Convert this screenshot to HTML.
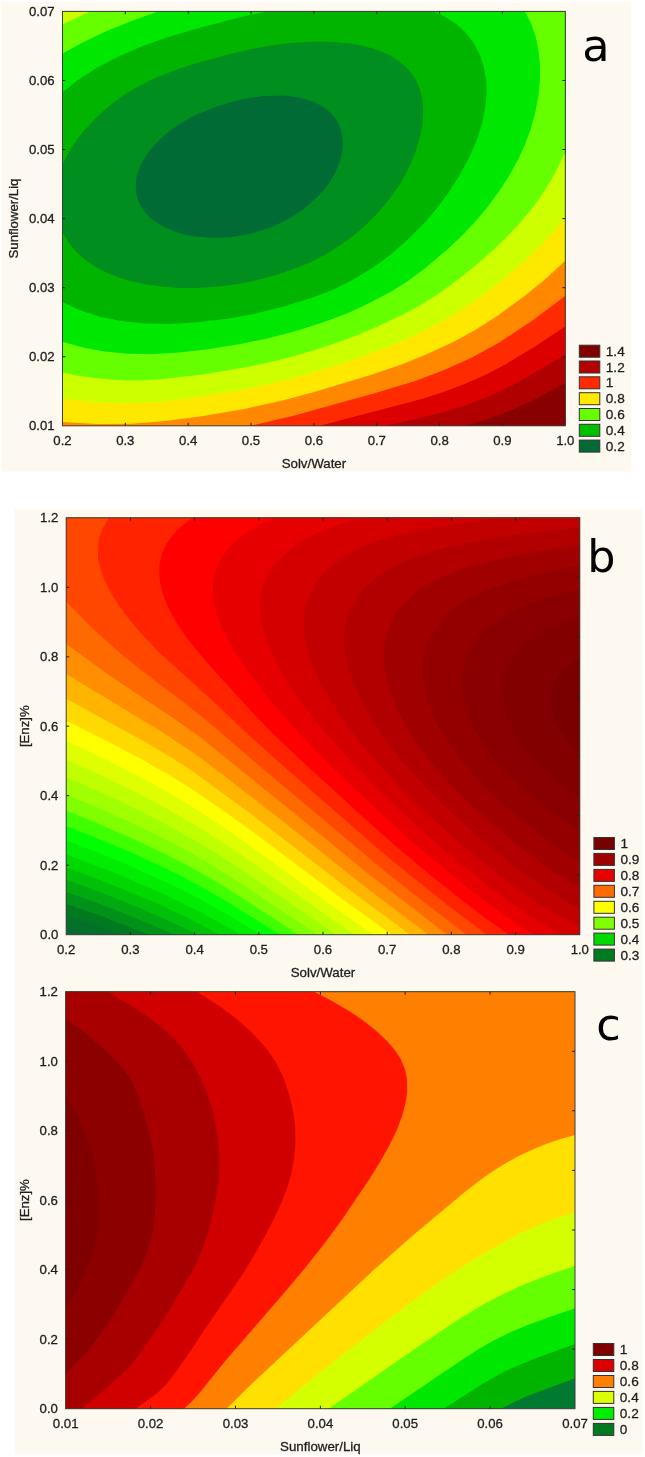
<!DOCTYPE html>
<html><head><meta charset="utf-8"><style>html,body{margin:0;padding:0;background:#fff;width:645px;height:1457px;overflow:hidden}svg{display:block}</style></head><body>
<svg width="645" height="1457" viewBox="0 0 645 1457">
<rect x="0" y="0" width="645" height="1457" fill="#fff"/>
<rect x="1.5" y="2" width="629.5" height="469.5" fill="#fdf9f0"/>
<rect x="14.6" y="509.3" width="627.9" height="945" fill="#fdf9f0"/>
<rect x="62.5" y="11.4" width="502.8" height="414.4" fill="#006b35"/>
<path fill="#008e1e" fill-rule="evenodd" d="M63.5 11.4L565.3 11.4 565.3 425.8 62.5 425.8 62.5 11.4ZM260.0 96.4L238.5 100.1 216.5 106.4 196.5 114.6 187.3 119.4 177.5 125.3 169.0 131.4 161.9 137.4 155.5 143.7 149.7 150.4 145.4 156.4 141.3 163.4 138.4 170.4 136.5 177.4 135.7 184.4 136.0 191.4 137.2 197.4 139.5 203.4 143.0 209.4 147.0 214.4 152.3 219.4 158.5 223.8 165.5 227.7 173.5 231.1 182.5 233.9 191.5 235.9 210.5 237.8 220.5 237.8 231.5 236.9 251.5 233.4 270.5 227.5 287.7 219.4 303.2 209.4 316.9 197.4 323.2 190.4 328.6 183.4 333.0 176.4 336.7 169.4 339.4 162.4 341.6 154.4 342.6 147.4 342.6 140.4 341.9 134.4 340.4 128.4 337.7 122.4 334.5 117.4 330.1 112.4 325.3 108.4 319.5 104.7 312.5 101.5 305.5 99.1 297.5 97.3 288.5 96.0 279.5 95.5 260.5 96.3Z"/>
<path fill="#00b400" fill-rule="evenodd" d="M63.5 11.4L565.3 11.4 565.3 425.8 62.5 425.8 62.5 231.7 67.9 241.4 75.0 250.4 83.5 258.4 93.1 265.4 103.9 271.4 116.5 276.7 129.5 280.8 144.5 284.2 160.5 286.5 177.5 287.9 195.5 288.1 213.5 287.1 231.5 285.0 248.5 282.0 266.5 277.7 284.5 272.3 299.5 266.8 312.5 261.2 325.5 254.5 337.5 247.1 349.5 238.7 360.8 229.4 371.5 219.4 381.7 208.4 391.3 196.4 399.6 184.4 406.5 172.4 412.1 160.4 417.0 147.4 420.4 135.4 422.5 123.4 423.2 111.4 422.6 101.4 420.8 92.4 417.6 83.4 413.5 76.0 407.5 68.5 400.8 62.4 392.5 56.8 383.8 52.4 373.0 48.4 361.5 45.4 349.5 43.3 335.5 42.0 320.5 41.5 305.5 41.9 289.5 43.1 272.5 45.3 254.5 48.4 235.9 52.4 193.5 63.9 177.0 69.4 161.2 75.4 147.7 81.4 136.2 87.4 124.5 94.6 112.4 103.4 101.6 112.4 91.4 122.4 82.5 132.4 74.2 143.4 67.5 154.4 62.5 164.9 62.5 11.4Z"/>
<path fill="#00e800" fill-rule="evenodd" d="M63.5 11.4L267.0 11.4 235.5 18.2 193.5 29.4 166.5 37.6 141.5 46.6 118.5 56.5 96.5 67.9 78.6 79.4 62.5 92.3 62.5 11.4ZM433.5 11.4L565.3 11.4 565.3 425.8 62.5 425.8 62.5 302.2 80.5 310.5 100.5 316.9 122.5 321.3 145.5 323.6 170.5 323.9 197.5 322.3 229.3 318.4 257.5 313.1 284.5 306.3 313.1 297.4 333.5 289.5 351.5 280.5 371.7 268.4 390.5 254.8 408.5 239.1 425.8 221.4 438.4 206.4 449.3 191.4 461.2 172.4 470.2 155.4 477.0 139.4 481.8 124.4 485.2 108.4 486.7 93.4 486.2 79.4 483.8 66.4 479.5 53.8 473.4 42.4 465.7 32.4 456.5 24.1 445.5 17.0 433.1 11.4Z"/>
<path fill="#66ff00" fill-rule="evenodd" d="M63.5 11.4L158.1 11.4 132.5 20.4 105.7 31.4 82.6 42.4 62.5 53.6 62.5 11.4ZM525.5 11.4L565.3 11.4 565.3 425.8 62.5 425.8 62.5 341.7 82.7 347.4 104.5 351.5 127.5 353.8 150.5 354.2 176.5 352.8 206.5 349.4 240.5 344.0 269.5 337.9 299.5 329.9 325.5 321.6 347.0 313.4 368.5 303.4 391.3 291.4 407.3 281.4 425.5 267.9 447.4 249.4 462.2 235.4 476.3 220.4 488.0 206.4 499.0 191.4 508.8 176.4 517.5 160.8 524.6 145.4 530.6 129.4 535.3 112.4 538.4 96.4 540.0 80.4 540.1 65.4 538.6 50.4 535.6 36.4 531.1 23.4 525.0 11.4Z"/>
<path fill="#ccff00" fill-rule="evenodd" d="M63.5 11.4L89.9 11.4 62.5 24.3 62.5 11.4ZM565.3 151.3L565.3 425.8 62.5 425.8 62.5 372.6 78.5 375.7 95.5 378.1 112.5 379.7 129.5 380.4 144.5 380.2 161.5 379.3 200.5 374.8 250.2 366.4 270.5 362.0 290.5 357.0 314.5 350.0 337.5 342.4 357.5 335.0 377.5 326.6 408.9 311.4 423.0 303.4 436.5 294.9 450.1 285.4 464.5 274.4 480.3 261.4 493.8 249.4 506.2 237.4 517.6 225.4 527.9 213.4 537.2 201.4 544.8 190.4 552.0 178.4 559.3 164.4 565.3 151.4Z"/>
<path fill="#ffe800" fill-rule="evenodd" d="M565.3 217.4L565.3 425.8 62.5 425.8 62.5 398.8 95.5 402.3 128.5 403.2 159.5 401.7 196.5 397.3 243.5 389.4 284.5 380.5 324.5 369.0 367.5 354.7 398.5 342.5 426.5 329.5 450.7 316.4 472.5 302.4 500.6 281.4 526.4 259.4 547.6 238.4 565.3 217.4Z"/>
<path fill="#ff8800" fill-rule="evenodd" d="M564.5 261.4L565.3 260.6 565.3 425.8 62.5 425.8 62.5 422.1 96.5 424.1 130.5 423.8 163.5 421.3 201.5 416.3 244.5 408.9 282.5 400.5 316.0 391.4 372.1 374.4 401.5 364.4 425.5 354.8 452.2 342.4 474.4 330.4 497.9 315.4 522.6 297.4 544.9 279.4 564.5 261.4Z"/>
<path fill="#ff2a00" fill-rule="evenodd" d="M565.3 295.8L565.3 425.8 250.6 425.8 292.5 416.1 373.7 393.4 413.7 381.4 442.5 370.7 472.5 357.2 499.3 342.4 532.5 320.4 564.5 296.4Z"/>
<path fill="#dd0000" fill-rule="evenodd" d="M565.3 326.3L565.3 425.8 319.9 425.8 422.5 398.7 443.5 392.0 464.5 384.1 486.2 374.4 507.0 363.4 534.9 346.4 565.2 326.4Z"/>
<path fill="#b00000" fill-rule="evenodd" d="M564.5 355.1L565.3 354.6 565.3 425.8 386.1 425.8 439.5 413.3 462.3 406.4 480.5 399.8 497.5 392.5 514.5 383.9 563.9 355.4Z"/>
<path fill="#880000" fill-rule="evenodd" d="M565.3 383.0L565.3 425.8 466.4 425.8 488.5 419.1 510.6 410.4 536.5 398.4 564.6 383.4Z"/>
<rect x="62.5" y="11.4" width="502.8" height="414.4" fill="none" stroke="#3c3c3c" stroke-width="1"/>
<text x="62.5" y="445.3" text-anchor="middle" font-family="Liberation Sans, Arial, sans-serif" stroke="#1e1e1e" stroke-width="0.3" font-size="13.2" fill="#1e1e1e">0.2</text>
<path d="M125.3 425.8v-3M125.3 11.4v3" stroke="#222" stroke-width="1"/>
<text x="125.3" y="445.3" text-anchor="middle" font-family="Liberation Sans, Arial, sans-serif" stroke="#1e1e1e" stroke-width="0.3" font-size="13.2" fill="#1e1e1e">0.3</text>
<path d="M188.2 425.8v-3M188.2 11.4v3" stroke="#222" stroke-width="1"/>
<text x="188.2" y="445.3" text-anchor="middle" font-family="Liberation Sans, Arial, sans-serif" stroke="#1e1e1e" stroke-width="0.3" font-size="13.2" fill="#1e1e1e">0.4</text>
<path d="M251.0 425.8v-3M251.0 11.4v3" stroke="#222" stroke-width="1"/>
<text x="251.0" y="445.3" text-anchor="middle" font-family="Liberation Sans, Arial, sans-serif" stroke="#1e1e1e" stroke-width="0.3" font-size="13.2" fill="#1e1e1e">0.5</text>
<path d="M313.9 425.8v-3M313.9 11.4v3" stroke="#222" stroke-width="1"/>
<text x="313.9" y="445.3" text-anchor="middle" font-family="Liberation Sans, Arial, sans-serif" stroke="#1e1e1e" stroke-width="0.3" font-size="13.2" fill="#1e1e1e">0.6</text>
<path d="M376.8 425.8v-3M376.8 11.4v3" stroke="#222" stroke-width="1"/>
<text x="376.8" y="445.3" text-anchor="middle" font-family="Liberation Sans, Arial, sans-serif" stroke="#1e1e1e" stroke-width="0.3" font-size="13.2" fill="#1e1e1e">0.7</text>
<path d="M439.6 425.8v-3M439.6 11.4v3" stroke="#222" stroke-width="1"/>
<text x="439.6" y="445.3" text-anchor="middle" font-family="Liberation Sans, Arial, sans-serif" stroke="#1e1e1e" stroke-width="0.3" font-size="13.2" fill="#1e1e1e">0.8</text>
<path d="M502.4 425.8v-3M502.4 11.4v3" stroke="#222" stroke-width="1"/>
<text x="502.4" y="445.3" text-anchor="middle" font-family="Liberation Sans, Arial, sans-serif" stroke="#1e1e1e" stroke-width="0.3" font-size="13.2" fill="#1e1e1e">0.9</text>
<text x="565.3" y="445.3" text-anchor="middle" font-family="Liberation Sans, Arial, sans-serif" stroke="#1e1e1e" stroke-width="0.3" font-size="13.2" fill="#1e1e1e">1.0</text>
<text x="54.7" y="430.1" text-anchor="end" font-family="Liberation Sans, Arial, sans-serif" stroke="#1e1e1e" stroke-width="0.3" font-size="13.2" fill="#1e1e1e">0.01</text>
<path d="M62.5 356.7h3" stroke="#222" stroke-width="1"/>
<path d="M565.3 356.7h-3" stroke="#222" stroke-width="1"/>
<text x="54.7" y="361.0" text-anchor="end" font-family="Liberation Sans, Arial, sans-serif" stroke="#1e1e1e" stroke-width="0.3" font-size="13.2" fill="#1e1e1e">0.02</text>
<path d="M62.5 287.7h3" stroke="#222" stroke-width="1"/>
<path d="M565.3 287.7h-3" stroke="#222" stroke-width="1"/>
<text x="54.7" y="292.0" text-anchor="end" font-family="Liberation Sans, Arial, sans-serif" stroke="#1e1e1e" stroke-width="0.3" font-size="13.2" fill="#1e1e1e">0.03</text>
<path d="M62.5 218.6h3" stroke="#222" stroke-width="1"/>
<path d="M565.3 218.6h-3" stroke="#222" stroke-width="1"/>
<text x="54.7" y="222.9" text-anchor="end" font-family="Liberation Sans, Arial, sans-serif" stroke="#1e1e1e" stroke-width="0.3" font-size="13.2" fill="#1e1e1e">0.04</text>
<path d="M62.5 149.5h3" stroke="#222" stroke-width="1"/>
<path d="M565.3 149.5h-3" stroke="#222" stroke-width="1"/>
<text x="54.7" y="153.8" text-anchor="end" font-family="Liberation Sans, Arial, sans-serif" stroke="#1e1e1e" stroke-width="0.3" font-size="13.2" fill="#1e1e1e">0.05</text>
<path d="M62.5 80.5h3" stroke="#222" stroke-width="1"/>
<path d="M565.3 80.5h-3" stroke="#222" stroke-width="1"/>
<text x="54.7" y="84.8" text-anchor="end" font-family="Liberation Sans, Arial, sans-serif" stroke="#1e1e1e" stroke-width="0.3" font-size="13.2" fill="#1e1e1e">0.06</text>
<text x="54.7" y="15.7" text-anchor="end" font-family="Liberation Sans, Arial, sans-serif" stroke="#1e1e1e" stroke-width="0.3" font-size="13.2" fill="#1e1e1e">0.07</text>
<text x="313.9" y="468.1" text-anchor="middle" font-family="Liberation Sans, Arial, sans-serif" stroke="#1e1e1e" stroke-width="0.3" font-size="13.3" fill="#1e1e1e">Solv/Water</text>
<text transform="translate(17.7 218.5) rotate(-90)" text-anchor="middle" font-family="Liberation Sans, Arial, sans-serif" stroke="#1e1e1e" stroke-width="0.3" font-size="13.2" fill="#1e1e1e">Sunflower/Liq</text>
<text x="582.3" y="61.3" font-family="DejaVu Sans, sans-serif" font-size="44.5" fill="#000">a</text>
<rect x="579.3" y="345.2" width="20.5" height="12" fill="#800000" stroke="#333" stroke-width="1"/>
<text x="605.8" y="355.8" font-family="Liberation Sans, Arial, sans-serif" stroke="#1e1e1e" stroke-width="0.3" font-size="13.6" fill="#1e1e1e">1.4</text>
<rect x="579.3" y="361.0" width="20.5" height="12" fill="#b40000" stroke="#333" stroke-width="1"/>
<text x="605.8" y="371.6" font-family="Liberation Sans, Arial, sans-serif" stroke="#1e1e1e" stroke-width="0.3" font-size="13.6" fill="#1e1e1e">1.2</text>
<rect x="579.3" y="376.8" width="20.5" height="12" fill="#ff2a00" stroke="#333" stroke-width="1"/>
<text x="605.8" y="387.4" font-family="Liberation Sans, Arial, sans-serif" stroke="#1e1e1e" stroke-width="0.3" font-size="13.6" fill="#1e1e1e">1</text>
<rect x="579.3" y="392.7" width="20.5" height="12" fill="#ffe800" stroke="#333" stroke-width="1"/>
<text x="605.8" y="403.3" font-family="Liberation Sans, Arial, sans-serif" stroke="#1e1e1e" stroke-width="0.3" font-size="13.6" fill="#1e1e1e">0.8</text>
<rect x="579.3" y="408.5" width="20.5" height="12" fill="#66ff00" stroke="#333" stroke-width="1"/>
<text x="605.8" y="419.1" font-family="Liberation Sans, Arial, sans-serif" stroke="#1e1e1e" stroke-width="0.3" font-size="13.6" fill="#1e1e1e">0.6</text>
<rect x="579.3" y="424.3" width="20.5" height="12" fill="#00c000" stroke="#333" stroke-width="1"/>
<text x="605.8" y="434.9" font-family="Liberation Sans, Arial, sans-serif" stroke="#1e1e1e" stroke-width="0.3" font-size="13.6" fill="#1e1e1e">0.4</text>
<rect x="579.3" y="440.1" width="20.5" height="12" fill="#006b35" stroke="#333" stroke-width="1"/>
<text x="605.8" y="450.7" font-family="Liberation Sans, Arial, sans-serif" stroke="#1e1e1e" stroke-width="0.3" font-size="13.6" fill="#1e1e1e">0.2</text>
<rect x="66.2" y="517.8" width="513.6" height="416.9" fill="#0a6632"/>
<path fill="#057029" fill-rule="evenodd" d="M67.2 517.8L579.8 517.8 579.8 934.7 90.6 934.7 66.2 927.1 66.2 517.8Z"/>
<path fill="#007a20" fill-rule="evenodd" d="M67.2 517.8L579.8 517.8 579.8 934.7 121.2 934.7 91.2 923.7 66.2 915.6 66.2 517.8Z"/>
<path fill="#009218" fill-rule="evenodd" d="M67.2 517.8L579.8 517.8 579.8 934.7 148.7 934.7 102.2 916.3 66.2 903.9 66.2 517.8Z"/>
<path fill="#00a910" fill-rule="evenodd" d="M67.2 517.8L579.8 517.8 579.8 934.7 174.3 934.7 148.2 923.2 116.2 910.2 89.2 899.9 66.2 892.1 66.2 517.8Z"/>
<path fill="#00c008" fill-rule="evenodd" d="M67.2 517.8L579.8 517.8 579.8 934.7 198.0 934.7 168.2 920.4 136.2 906.5 97.2 891.0 66.2 880.0 66.2 517.8Z"/>
<path fill="#00d800" fill-rule="evenodd" d="M67.2 517.8L579.8 517.8 579.8 934.7 220.1 934.7 186.2 917.0 152.2 901.3 105.2 881.9 66.2 867.5 66.2 517.8Z"/>
<path fill="#00ec00" fill-rule="evenodd" d="M67.2 517.8L579.8 517.8 579.8 934.7 240.9 934.7 201.2 912.5 164.2 894.2 113.2 872.3 66.2 854.4 66.2 517.8Z"/>
<path fill="#00ff00" fill-rule="evenodd" d="M67.2 517.8L579.8 517.8 579.8 934.7 260.8 934.7 213.2 906.5 192.2 895.1 172.2 885.0 123.2 863.1 94.2 851.3 66.2 840.6 66.2 517.8Z"/>
<path fill="#40ff00" fill-rule="evenodd" d="M67.2 517.8L579.8 517.8 579.8 934.7 280.0 934.7 223.2 899.4 200.2 886.2 180.2 875.5 157.2 864.4 128.2 851.3 95.2 837.4 66.2 825.9 66.2 517.8Z"/>
<path fill="#80ff00" fill-rule="evenodd" d="M67.2 517.8L579.8 517.8 579.8 934.7 298.7 934.7 233.2 892.2 208.2 877.0 187.2 865.2 161.2 852.1 131.2 838.0 97.2 823.2 66.2 810.5 66.2 517.8Z"/>
<path fill="#a0ff00" fill-rule="evenodd" d="M67.2 517.8L579.8 517.8 579.8 934.7 317.3 934.7 240.2 883.0 214.2 866.5 193.2 854.2 165.2 839.3 132.2 823.2 99.2 808.2 66.2 794.4 66.2 517.8Z"/>
<path fill="#c0ff00" fill-rule="evenodd" d="M67.2 517.8L579.8 517.8 579.8 934.7 335.9 934.7 244.2 871.4 219.2 855.1 197.2 841.7 167.2 825.0 135.2 808.6 101.2 792.6 66.2 777.4 66.2 517.8Z"/>
<path fill="#dfff00" fill-rule="evenodd" d="M67.2 517.8L579.8 517.8 579.8 934.7 354.6 934.7 323.0 912.8 248.2 859.5 222.2 842.0 199.2 827.5 168.2 809.4 138.2 793.3 103.2 776.2 66.2 759.6 66.2 517.8Z"/>
<path fill="#ffff00" fill-rule="evenodd" d="M67.2 517.8L579.8 517.8 579.8 934.7 373.3 934.7 330.9 904.8 248.2 844.3 220.2 825.1 192.2 806.9 166.2 791.2 138.2 775.8 105.2 759.1 66.2 740.8 66.2 517.8Z"/>
<path fill="#ffda00" fill-rule="evenodd" d="M67.2 517.8L579.8 517.8 579.8 934.7 391.9 934.7 339.3 896.8 253.2 832.1 221.2 809.3 190.2 788.1 167.2 773.8 141.2 759.0 109.2 742.2 66.2 720.7 66.2 517.8Z"/>
<path fill="#ffb400" fill-rule="evenodd" d="M67.2 517.8L579.8 517.8 579.8 934.7 410.2 934.7 348.1 888.8 258.2 819.4 192.2 771.1 172.2 758.0 149.2 744.3 66.2 698.7 66.2 517.8Z"/>
<path fill="#ff8f00" fill-rule="evenodd" d="M67.2 517.8L579.8 517.8 579.8 934.7 428.5 934.7 361.1 883.8 281.2 820.1 215.2 768.9 194.2 753.2 161.2 731.4 66.2 674.0 66.2 517.8Z"/>
<path fill="#ff6a00" fill-rule="evenodd" d="M67.2 517.8L579.8 517.8 579.8 934.7 447.1 934.7 366.9 872.8 303.2 820.4 200.2 737.3 175.2 719.4 105.7 672.8 66.2 644.0 66.2 517.8Z"/>
<path fill="#ff4700" fill-rule="evenodd" d="M67.2 517.8L579.8 517.8 579.8 934.7 466.4 934.7 421.0 899.8 383.0 869.8 258.1 764.8 206.2 720.2 185.2 703.6 141.8 670.8 122.0 654.8 92.8 628.8 70.2 605.8 66.2 601.3 66.2 517.8Z"/>
<path fill="#ff2300" fill-rule="evenodd" d="M109.2 518.1L579.8 517.8 579.8 934.7 486.9 934.7 447.2 904.8 394.7 862.8 367.6 839.8 278.5 761.8 250.6 736.8 212.2 700.4 158.5 651.8 137.9 629.8 128.0 617.8 119.8 606.8 111.5 593.8 104.8 580.8 100.4 568.8 98.1 557.8 97.8 546.8 99.4 536.8 102.9 527.8 108.6 518.8Z"/>
<path fill="#ff0000" fill-rule="evenodd" d="M192.2 518.4L193.1 517.8 579.8 517.8 579.8 934.7 509.0 934.7 485.2 917.9 458.8 897.8 426.3 871.8 396.5 846.8 368.3 821.8 304.7 763.8 274.1 734.8 255.5 715.8 209.8 665.8 188.9 640.8 180.4 628.8 173.0 616.8 167.4 605.8 163.1 594.8 160.3 583.8 159.1 572.8 159.7 562.8 162.3 552.8 166.5 543.8 173.0 534.8 180.9 526.8 191.6 518.8Z"/>
<path fill="#e60000" fill-rule="evenodd" d="M272.2 518.7L274.2 517.8 579.8 517.8 579.8 934.7 533.3 934.7 502.1 913.8 469.2 889.1 435.5 861.8 404.2 834.8 373.7 806.8 331.8 766.8 308.0 742.8 287.5 720.8 271.4 701.8 254.4 679.8 242.9 663.8 233.8 649.8 226.3 636.8 220.6 624.8 216.6 613.8 213.9 602.8 212.7 592.8 213.0 582.8 214.9 572.8 218.3 563.8 223.5 554.8 229.9 546.8 238.3 538.8 247.7 531.8 259.4 524.8 271.9 518.8Z"/>
<path fill="#d40000" fill-rule="evenodd" d="M361.2 518.7L365.4 517.8 579.8 517.8 579.8 934.7 560.9 934.7 531.2 916.7 507.2 900.2 481.5 880.8 453.1 857.8 425.3 833.8 400.4 810.8 375.8 786.8 350.5 760.8 330.4 738.8 313.7 718.8 300.1 700.8 287.4 681.8 277.1 663.8 270.4 649.8 265.4 636.8 262.0 624.8 260.3 613.8 260.0 602.8 261.4 591.8 264.5 581.8 268.8 572.8 275.0 563.8 283.2 555.0 292.2 547.5 303.2 540.3 315.6 533.8 329.9 527.8 344.2 523.1 360.9 518.8Z"/>
<path fill="#c30000" fill-rule="evenodd" d="M495.2 518.7L503.5 517.8 579.8 517.8 579.8 927.3 560.1 916.8 539.2 904.0 517.2 888.9 494.5 871.8 469.2 851.3 445.5 830.8 421.8 808.8 399.7 786.8 380.1 765.8 362.8 745.8 347.9 726.8 335.3 708.8 324.4 690.8 315.8 673.8 309.5 657.8 305.4 642.8 303.5 629.8 303.5 617.8 305.4 605.8 309.1 594.8 314.4 584.8 322.0 574.8 331.3 565.8 342.1 557.8 354.1 550.8 367.2 544.8 381.2 539.8 398.2 534.9 418.2 530.4 443.1 525.8 468.2 522.0 494.2 518.8Z"/>
<path fill="#b20000" fill-rule="evenodd" d="M576.2 527.8L579.8 527.5 579.8 908.7 561.2 898.5 541.4 885.8 517.7 868.8 494.8 850.8 471.0 830.8 450.2 811.8 428.8 790.8 410.4 770.8 394.5 751.8 381.8 734.8 370.6 717.8 361.1 700.8 353.8 684.8 348.4 668.8 345.3 654.8 344.1 640.8 344.8 628.8 347.2 617.8 351.5 606.8 357.4 596.8 365.2 587.3 374.5 578.8 385.9 570.8 398.2 564.1 412.2 558.1 427.7 552.8 446.2 547.7 468.2 542.7 492.2 538.3 522.3 533.8 552.2 530.0 575.9 527.8Z"/>
<path fill="#a00000" fill-rule="evenodd" d="M577.2 545.8L579.8 545.5 579.8 887.6 563.2 877.8 543.9 864.8 524.2 850.3 503.7 833.8 484.9 817.8 468.9 802.8 450.0 783.8 436.5 768.8 423.7 752.8 413.6 738.8 405.0 724.8 397.2 709.8 391.3 695.8 387.1 681.8 384.6 668.8 383.7 655.8 384.3 644.8 386.2 634.8 389.6 624.8 394.3 615.8 401.2 606.1 409.0 597.8 418.2 590.3 428.3 583.8 440.1 577.8 453.2 572.5 470.1 566.8 487.9 561.8 509.4 556.8 535.0 551.8 557.2 548.2 576.9 545.8Z"/>
<path fill="#940000" fill-rule="evenodd" d="M579.8 565.8L579.8 862.1 563.2 851.5 547.2 840.4 532.0 828.8 513.2 813.4 499.2 801.0 486.5 788.8 473.1 774.8 462.7 762.8 453.5 750.8 445.3 738.8 438.3 726.8 433.0 715.8 428.4 703.8 425.0 691.8 423.2 680.8 422.6 669.8 423.2 659.8 425.1 649.8 428.0 640.8 431.9 632.8 437.1 624.8 443.9 616.8 451.4 609.8 459.6 603.8 469.8 597.8 481.2 592.4 494.9 586.8 510.2 581.5 527.2 576.5 546.5 571.8 563.2 568.4 579.7 565.8Z"/>
<path fill="#8a0000" fill-rule="evenodd" d="M576.2 589.7L579.8 589.0 579.8 831.8 554.2 814.2 530.2 795.1 509.4 775.8 492.4 756.8 485.6 747.8 479.2 738.1 474.0 728.8 469.8 719.8 466.4 710.8 463.9 701.8 462.4 692.8 461.8 684.8 462.1 675.8 463.4 667.8 465.6 659.8 468.4 652.8 472.2 645.8 477.2 638.7 483.2 631.8 489.7 625.8 497.2 620.2 505.2 615.3 515.6 609.8 526.7 604.8 551.2 596.0 575.8 589.8Z"/>
<path fill="#820000" fill-rule="evenodd" d="M577.2 617.7L579.8 617.0 579.8 796.9 562.2 784.4 546.8 771.8 533.5 758.8 522.6 745.8 514.0 732.8 507.7 719.8 503.8 706.8 502.4 693.8 503.4 681.8 507.0 669.8 512.9 658.8 521.1 648.8 531.5 639.8 545.2 631.1 560.2 623.8 576.9 617.8Z"/>
<path fill="#7a0000" fill-rule="evenodd" d="M579.2 658.5L579.8 658.2 579.8 752.5 567.2 739.8 558.7 727.8 555.3 720.8 553.1 714.8 551.5 707.8 551.0 701.8 551.3 695.8 552.5 689.8 554.7 683.8 557.9 677.8 561.7 672.8 566.5 667.8 572.2 663.1 578.7 658.8Z"/>
<rect x="66.2" y="517.8" width="513.6" height="416.9" fill="none" stroke="#3c3c3c" stroke-width="1"/>
<text x="66.2" y="954.2" text-anchor="middle" font-family="Liberation Sans, Arial, sans-serif" stroke="#1e1e1e" stroke-width="0.3" font-size="13.2" fill="#1e1e1e">0.2</text>
<path d="M130.4 934.7v-3M130.4 517.8v3" stroke="#222" stroke-width="1"/>
<text x="130.4" y="954.2" text-anchor="middle" font-family="Liberation Sans, Arial, sans-serif" stroke="#1e1e1e" stroke-width="0.3" font-size="13.2" fill="#1e1e1e">0.3</text>
<path d="M194.6 934.7v-3M194.6 517.8v3" stroke="#222" stroke-width="1"/>
<text x="194.6" y="954.2" text-anchor="middle" font-family="Liberation Sans, Arial, sans-serif" stroke="#1e1e1e" stroke-width="0.3" font-size="13.2" fill="#1e1e1e">0.4</text>
<path d="M258.8 934.7v-3M258.8 517.8v3" stroke="#222" stroke-width="1"/>
<text x="258.8" y="954.2" text-anchor="middle" font-family="Liberation Sans, Arial, sans-serif" stroke="#1e1e1e" stroke-width="0.3" font-size="13.2" fill="#1e1e1e">0.5</text>
<path d="M323.0 934.7v-3M323.0 517.8v3" stroke="#222" stroke-width="1"/>
<text x="323.0" y="954.2" text-anchor="middle" font-family="Liberation Sans, Arial, sans-serif" stroke="#1e1e1e" stroke-width="0.3" font-size="13.2" fill="#1e1e1e">0.6</text>
<path d="M387.2 934.7v-3M387.2 517.8v3" stroke="#222" stroke-width="1"/>
<text x="387.2" y="954.2" text-anchor="middle" font-family="Liberation Sans, Arial, sans-serif" stroke="#1e1e1e" stroke-width="0.3" font-size="13.2" fill="#1e1e1e">0.7</text>
<path d="M451.4 934.7v-3M451.4 517.8v3" stroke="#222" stroke-width="1"/>
<text x="451.4" y="954.2" text-anchor="middle" font-family="Liberation Sans, Arial, sans-serif" stroke="#1e1e1e" stroke-width="0.3" font-size="13.2" fill="#1e1e1e">0.8</text>
<path d="M515.6 934.7v-3M515.6 517.8v3" stroke="#222" stroke-width="1"/>
<text x="515.6" y="954.2" text-anchor="middle" font-family="Liberation Sans, Arial, sans-serif" stroke="#1e1e1e" stroke-width="0.3" font-size="13.2" fill="#1e1e1e">0.9</text>
<text x="579.8" y="954.2" text-anchor="middle" font-family="Liberation Sans, Arial, sans-serif" stroke="#1e1e1e" stroke-width="0.3" font-size="13.2" fill="#1e1e1e">1.0</text>
<text x="58.4" y="939.0" text-anchor="end" font-family="Liberation Sans, Arial, sans-serif" stroke="#1e1e1e" stroke-width="0.3" font-size="13.2" fill="#1e1e1e">0.0</text>
<path d="M66.2 865.2h3" stroke="#222" stroke-width="1"/>
<text x="58.4" y="869.5" text-anchor="end" font-family="Liberation Sans, Arial, sans-serif" stroke="#1e1e1e" stroke-width="0.3" font-size="13.2" fill="#1e1e1e">0.2</text>
<path d="M66.2 795.7h3" stroke="#222" stroke-width="1"/>
<text x="58.4" y="800.0" text-anchor="end" font-family="Liberation Sans, Arial, sans-serif" stroke="#1e1e1e" stroke-width="0.3" font-size="13.2" fill="#1e1e1e">0.4</text>
<path d="M66.2 726.2h3" stroke="#222" stroke-width="1"/>
<text x="58.4" y="730.5" text-anchor="end" font-family="Liberation Sans, Arial, sans-serif" stroke="#1e1e1e" stroke-width="0.3" font-size="13.2" fill="#1e1e1e">0.6</text>
<path d="M66.2 656.8h3" stroke="#222" stroke-width="1"/>
<text x="58.4" y="661.1" text-anchor="end" font-family="Liberation Sans, Arial, sans-serif" stroke="#1e1e1e" stroke-width="0.3" font-size="13.2" fill="#1e1e1e">0.8</text>
<path d="M66.2 587.3h3" stroke="#222" stroke-width="1"/>
<text x="58.4" y="591.6" text-anchor="end" font-family="Liberation Sans, Arial, sans-serif" stroke="#1e1e1e" stroke-width="0.3" font-size="13.2" fill="#1e1e1e">1.0</text>
<text x="58.4" y="522.1" text-anchor="end" font-family="Liberation Sans, Arial, sans-serif" stroke="#1e1e1e" stroke-width="0.3" font-size="13.2" fill="#1e1e1e">1.2</text>
<path d="M579.8 577.4h-3" stroke="#222" stroke-width="1"/>
<path d="M579.8 636.9h-3" stroke="#222" stroke-width="1"/>
<path d="M579.8 696.5h-3" stroke="#222" stroke-width="1"/>
<path d="M579.8 756.0h-3" stroke="#222" stroke-width="1"/>
<path d="M579.8 815.6h-3" stroke="#222" stroke-width="1"/>
<path d="M579.8 875.1h-3" stroke="#222" stroke-width="1"/>
<text x="323.0" y="977.0" text-anchor="middle" font-family="Liberation Sans, Arial, sans-serif" stroke="#1e1e1e" stroke-width="0.3" font-size="13.3" fill="#1e1e1e">Solv/Water</text>
<text transform="translate(29.3 726.2) rotate(-90)" text-anchor="middle" font-family="Liberation Sans, Arial, sans-serif" stroke="#1e1e1e" stroke-width="0.3" font-size="13.2" fill="#1e1e1e">[Enz]%</text>
<text x="587.3" y="572.2" font-family="DejaVu Sans, sans-serif" font-size="44.5" fill="#000">b</text>
<rect x="593.9" y="837.5" width="20.5" height="12" fill="#780000" stroke="#333" stroke-width="1"/>
<text x="620.4" y="848.1" font-family="Liberation Sans, Arial, sans-serif" stroke="#1e1e1e" stroke-width="0.3" font-size="13.6" fill="#1e1e1e">1</text>
<rect x="593.9" y="853.4" width="20.5" height="12" fill="#a00000" stroke="#333" stroke-width="1"/>
<text x="620.4" y="864.0" font-family="Liberation Sans, Arial, sans-serif" stroke="#1e1e1e" stroke-width="0.3" font-size="13.6" fill="#1e1e1e">0.9</text>
<rect x="593.9" y="869.4" width="20.5" height="12" fill="#e60000" stroke="#333" stroke-width="1"/>
<text x="620.4" y="880.0" font-family="Liberation Sans, Arial, sans-serif" stroke="#1e1e1e" stroke-width="0.3" font-size="13.6" fill="#1e1e1e">0.8</text>
<rect x="593.9" y="885.3" width="20.5" height="12" fill="#ff6a00" stroke="#333" stroke-width="1"/>
<text x="620.4" y="895.9" font-family="Liberation Sans, Arial, sans-serif" stroke="#1e1e1e" stroke-width="0.3" font-size="13.6" fill="#1e1e1e">0.7</text>
<rect x="593.9" y="901.3" width="20.5" height="12" fill="#ffff00" stroke="#333" stroke-width="1"/>
<text x="620.4" y="911.9" font-family="Liberation Sans, Arial, sans-serif" stroke="#1e1e1e" stroke-width="0.3" font-size="13.6" fill="#1e1e1e">0.6</text>
<rect x="593.9" y="917.2" width="20.5" height="12" fill="#80ff00" stroke="#333" stroke-width="1"/>
<text x="620.4" y="927.8" font-family="Liberation Sans, Arial, sans-serif" stroke="#1e1e1e" stroke-width="0.3" font-size="13.6" fill="#1e1e1e">0.5</text>
<rect x="593.9" y="933.1" width="20.5" height="12" fill="#00d800" stroke="#333" stroke-width="1"/>
<text x="620.4" y="943.7" font-family="Liberation Sans, Arial, sans-serif" stroke="#1e1e1e" stroke-width="0.3" font-size="13.6" fill="#1e1e1e">0.4</text>
<rect x="593.9" y="949.1" width="20.5" height="12" fill="#007a20" stroke="#333" stroke-width="1"/>
<text x="620.4" y="959.7" font-family="Liberation Sans, Arial, sans-serif" stroke="#1e1e1e" stroke-width="0.3" font-size="13.6" fill="#1e1e1e">0.3</text>
<rect x="65.7" y="991.7" width="509.3" height="417.0" fill="#007a30"/>
<path fill="#00b400" fill-rule="evenodd" d="M66.7 991.7L575.0 991.7 575.0 1378.3 528.7 1395.6 515.7 1401.3 501.0 1408.7 65.7 1408.7 65.7 991.7Z"/>
<path fill="#00e800" fill-rule="evenodd" d="M66.7 991.7L575.0 991.7 575.0 1344.0 534.7 1358.4 504.7 1371.2 481.7 1384.3 443.7 1408.7 65.7 1408.7 65.7 991.7Z"/>
<path fill="#66ff00" fill-rule="evenodd" d="M66.7 991.7L575.0 991.7 575.0 1308.3 551.7 1316.2 527.7 1325.1 507.7 1333.4 494.7 1339.9 479.7 1348.4 464.7 1357.9 389.7 1408.7 65.7 1408.7 65.7 991.7Z"/>
<path fill="#d4ff00" fill-rule="evenodd" d="M66.7 991.7L575.0 991.7 575.0 1265.9 545.7 1275.9 522.7 1285.0 499.7 1295.7 478.7 1307.0 455.7 1321.3 416.7 1347.5 328.8 1408.7 65.7 1408.7 65.7 991.7Z"/>
<path fill="#ffe000" fill-rule="evenodd" d="M66.7 991.7L575.0 991.7 575.0 1212.0 545.7 1222.2 519.7 1233.6 487.7 1251.0 457.7 1269.6 425.7 1291.6 392.7 1316.1 318.7 1373.3 275.7 1408.7 65.7 1408.7 65.7 991.7Z"/>
<path fill="#ff8000" fill-rule="evenodd" d="M66.7 991.7L575.0 991.7 575.0 1135.1 560.7 1138.9 546.7 1143.7 532.7 1149.4 518.7 1156.1 505.7 1163.2 494.7 1170.1 480.7 1179.8 465.7 1191.2 413.7 1234.8 373.7 1270.0 249.7 1385.8 226.6 1408.7 65.7 1408.7 65.7 991.7Z"/>
<path fill="#ff1400" fill-rule="evenodd" d="M66.7 991.7L314.4 991.7 333.4 1001.7 350.3 1011.7 363.5 1020.7 376.1 1030.7 386.8 1040.7 395.4 1050.7 401.1 1059.7 405.1 1069.7 407.1 1079.7 407.3 1090.7 405.7 1102.7 402.2 1115.7 396.9 1129.7 389.7 1144.7 380.2 1161.7 368.3 1180.7 341.2 1220.7 324.2 1243.7 306.9 1265.7 287.7 1288.7 226.7 1359.3 198.8 1393.7 191.5 1401.7 184.0 1408.7 65.7 1408.7 65.7 991.7Z"/>
<path fill="#d00000" fill-rule="evenodd" d="M66.7 991.7L197.1 991.7 219.0 1005.7 236.4 1018.7 252.1 1032.7 266.5 1048.7 275.6 1061.7 283.1 1076.7 289.3 1094.7 293.4 1112.7 295.2 1127.7 295.4 1142.7 294.2 1157.7 291.7 1171.7 287.8 1185.7 282.7 1199.7 275.4 1215.7 265.1 1235.7 253.4 1256.7 242.3 1274.7 202.4 1332.7 188.8 1353.7 172.2 1376.7 165.7 1384.9 158.8 1391.7 150.7 1398.1 135.6 1408.7 65.7 1408.7 65.7 991.7Z"/>
<path fill="#a80000" fill-rule="evenodd" d="M66.7 991.7L107.9 991.7 129.7 1004.7 149.7 1018.1 164.6 1029.7 175.7 1040.3 185.3 1051.7 193.2 1063.7 200.3 1076.7 206.7 1091.7 211.6 1106.7 215.5 1122.7 218.0 1138.7 219.3 1154.7 219.3 1169.7 218.2 1183.7 216.2 1197.7 212.9 1213.7 208.8 1229.7 204.4 1243.7 198.9 1257.7 193.6 1268.7 165.4 1316.7 134.0 1361.7 128.7 1367.8 121.5 1374.7 82.2 1408.7 65.7 1408.7 65.7 991.7Z"/>
<path fill="#8c0000" fill-rule="evenodd" d="M66.7 1019.5L85.3 1032.7 103.7 1048.7 122.5 1067.7 128.0 1074.7 132.3 1081.7 136.4 1090.7 140.4 1101.7 150.4 1136.7 152.6 1148.7 155.0 1168.7 156.1 1190.7 155.2 1212.7 152.5 1232.7 148.1 1249.7 141.6 1265.7 130.7 1285.7 116.7 1309.7 101.9 1332.7 86.7 1352.3 65.7 1374.1 65.7 1018.9Z"/>
<path fill="#800000" fill-rule="evenodd" d="M66.3 1095.7L74.2 1108.7 80.5 1121.7 87.2 1138.7 92.9 1156.7 95.4 1167.7 97.3 1180.7 98.2 1192.7 98.7 1210.7 98.3 1223.7 97.2 1234.7 95.3 1244.7 92.4 1254.7 86.7 1269.7 79.4 1285.7 74.0 1295.7 65.7 1308.5 65.7 1094.8Z"/>
<rect x="65.7" y="991.7" width="509.3" height="417.0" fill="none" stroke="#3c3c3c" stroke-width="1"/>
<text x="65.7" y="1428.2" text-anchor="middle" font-family="Liberation Sans, Arial, sans-serif" stroke="#1e1e1e" stroke-width="0.3" font-size="13.2" fill="#1e1e1e">0.01</text>
<path d="M150.6 1408.7v-3M150.6 991.7v3" stroke="#222" stroke-width="1"/>
<text x="150.6" y="1428.2" text-anchor="middle" font-family="Liberation Sans, Arial, sans-serif" stroke="#1e1e1e" stroke-width="0.3" font-size="13.2" fill="#1e1e1e">0.02</text>
<path d="M235.5 1408.7v-3M235.5 991.7v3" stroke="#222" stroke-width="1"/>
<text x="235.5" y="1428.2" text-anchor="middle" font-family="Liberation Sans, Arial, sans-serif" stroke="#1e1e1e" stroke-width="0.3" font-size="13.2" fill="#1e1e1e">0.03</text>
<path d="M320.4 1408.7v-3M320.4 991.7v3" stroke="#222" stroke-width="1"/>
<text x="320.4" y="1428.2" text-anchor="middle" font-family="Liberation Sans, Arial, sans-serif" stroke="#1e1e1e" stroke-width="0.3" font-size="13.2" fill="#1e1e1e">0.04</text>
<path d="M405.2 1408.7v-3M405.2 991.7v3" stroke="#222" stroke-width="1"/>
<text x="405.2" y="1428.2" text-anchor="middle" font-family="Liberation Sans, Arial, sans-serif" stroke="#1e1e1e" stroke-width="0.3" font-size="13.2" fill="#1e1e1e">0.05</text>
<path d="M490.1 1408.7v-3M490.1 991.7v3" stroke="#222" stroke-width="1"/>
<text x="490.1" y="1428.2" text-anchor="middle" font-family="Liberation Sans, Arial, sans-serif" stroke="#1e1e1e" stroke-width="0.3" font-size="13.2" fill="#1e1e1e">0.06</text>
<text x="575.0" y="1428.2" text-anchor="middle" font-family="Liberation Sans, Arial, sans-serif" stroke="#1e1e1e" stroke-width="0.3" font-size="13.2" fill="#1e1e1e">0.07</text>
<text x="57.9" y="1413.0" text-anchor="end" font-family="Liberation Sans, Arial, sans-serif" stroke="#1e1e1e" stroke-width="0.3" font-size="13.2" fill="#1e1e1e">0.0</text>
<path d="M65.7 1339.2h3" stroke="#222" stroke-width="1"/>
<text x="57.9" y="1343.5" text-anchor="end" font-family="Liberation Sans, Arial, sans-serif" stroke="#1e1e1e" stroke-width="0.3" font-size="13.2" fill="#1e1e1e">0.2</text>
<path d="M65.7 1269.7h3" stroke="#222" stroke-width="1"/>
<text x="57.9" y="1274.0" text-anchor="end" font-family="Liberation Sans, Arial, sans-serif" stroke="#1e1e1e" stroke-width="0.3" font-size="13.2" fill="#1e1e1e">0.4</text>
<path d="M65.7 1200.2h3" stroke="#222" stroke-width="1"/>
<text x="57.9" y="1204.5" text-anchor="end" font-family="Liberation Sans, Arial, sans-serif" stroke="#1e1e1e" stroke-width="0.3" font-size="13.2" fill="#1e1e1e">0.6</text>
<path d="M65.7 1130.7h3" stroke="#222" stroke-width="1"/>
<text x="57.9" y="1135.0" text-anchor="end" font-family="Liberation Sans, Arial, sans-serif" stroke="#1e1e1e" stroke-width="0.3" font-size="13.2" fill="#1e1e1e">0.8</text>
<path d="M65.7 1061.2h3" stroke="#222" stroke-width="1"/>
<text x="57.9" y="1065.5" text-anchor="end" font-family="Liberation Sans, Arial, sans-serif" stroke="#1e1e1e" stroke-width="0.3" font-size="13.2" fill="#1e1e1e">1.0</text>
<text x="57.9" y="996.0" text-anchor="end" font-family="Liberation Sans, Arial, sans-serif" stroke="#1e1e1e" stroke-width="0.3" font-size="13.2" fill="#1e1e1e">1.2</text>
<path d="M575.0 1051.3h-3" stroke="#222" stroke-width="1"/>
<path d="M575.0 1110.8h-3" stroke="#222" stroke-width="1"/>
<path d="M575.0 1170.4h-3" stroke="#222" stroke-width="1"/>
<path d="M575.0 1230.0h-3" stroke="#222" stroke-width="1"/>
<path d="M575.0 1289.6h-3" stroke="#222" stroke-width="1"/>
<path d="M575.0 1349.1h-3" stroke="#222" stroke-width="1"/>
<text x="320.4" y="1451.0" text-anchor="middle" font-family="Liberation Sans, Arial, sans-serif" stroke="#1e1e1e" stroke-width="0.3" font-size="13.3" fill="#1e1e1e">Sunflower/Liq</text>
<text transform="translate(29.3 1200.1) rotate(-90)" text-anchor="middle" font-family="Liberation Sans, Arial, sans-serif" stroke="#1e1e1e" stroke-width="0.3" font-size="13.2" fill="#1e1e1e">[Enz]%</text>
<text x="596.2" y="1040.4" font-family="DejaVu Sans, sans-serif" font-size="44.5" fill="#000">c</text>
<rect x="593.3" y="1343.5" width="20.5" height="12" fill="#800000" stroke="#333" stroke-width="1"/>
<text x="619.8" y="1354.1" font-family="Liberation Sans, Arial, sans-serif" stroke="#1e1e1e" stroke-width="0.3" font-size="13.6" fill="#1e1e1e">1</text>
<rect x="593.3" y="1359.5" width="20.5" height="12" fill="#dd0000" stroke="#333" stroke-width="1"/>
<text x="619.8" y="1370.1" font-family="Liberation Sans, Arial, sans-serif" stroke="#1e1e1e" stroke-width="0.3" font-size="13.6" fill="#1e1e1e">0.8</text>
<rect x="593.3" y="1375.5" width="20.5" height="12" fill="#ff8000" stroke="#333" stroke-width="1"/>
<text x="619.8" y="1386.1" font-family="Liberation Sans, Arial, sans-serif" stroke="#1e1e1e" stroke-width="0.3" font-size="13.6" fill="#1e1e1e">0.6</text>
<rect x="593.3" y="1391.4" width="20.5" height="12" fill="#ddff00" stroke="#333" stroke-width="1"/>
<text x="619.8" y="1402.0" font-family="Liberation Sans, Arial, sans-serif" stroke="#1e1e1e" stroke-width="0.3" font-size="13.6" fill="#1e1e1e">0.4</text>
<rect x="593.3" y="1407.4" width="20.5" height="12" fill="#00ee00" stroke="#333" stroke-width="1"/>
<text x="619.8" y="1418.0" font-family="Liberation Sans, Arial, sans-serif" stroke="#1e1e1e" stroke-width="0.3" font-size="13.6" fill="#1e1e1e">0.2</text>
<rect x="593.3" y="1423.4" width="20.5" height="12" fill="#007a20" stroke="#333" stroke-width="1"/>
<text x="619.8" y="1434.0" font-family="Liberation Sans, Arial, sans-serif" stroke="#1e1e1e" stroke-width="0.3" font-size="13.6" fill="#1e1e1e">0</text>
</svg>
</body></html>
